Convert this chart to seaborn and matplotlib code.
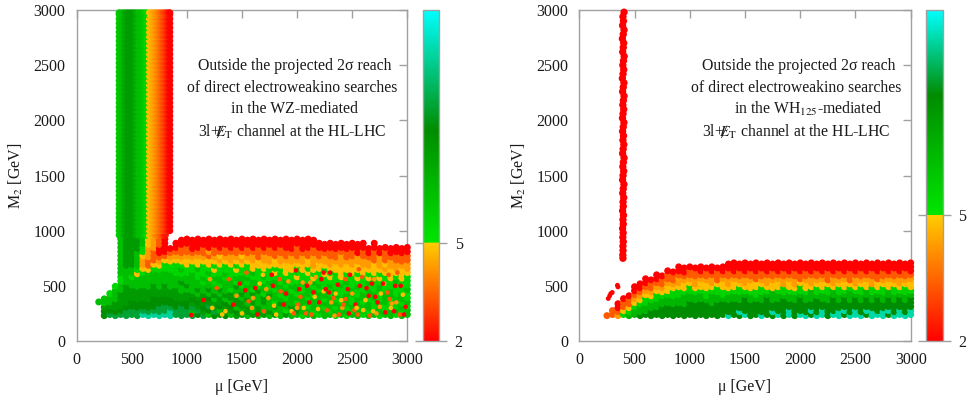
import numpy as np
import pandas as pd
import matplotlib
matplotlib.use("Agg")
import matplotlib.pyplot as plt
from matplotlib.colors import LinearSegmentedColormap, LogNorm
from matplotlib.cm import ScalarMappable
from matplotlib.ticker import NullLocator
import seaborn as sns

# ---------- values ----------
ticks_main = [0, 500, 1000, 1500, 2000, 2500, 3000]
cbar_ticks = [2, 5]
left_cbar_max = 44
right_cbar_max = 22.3
left_lines = ["Outside the projected 2σ reach", "of direct electroweakino searches",
              "in the WZ-mediated", r"3l+$\ \not\!\!\!\!E_{\mathrm{T}}$ channel at the HL-LHC"]
right_lines = ["Outside the projected 2σ reach", "of direct electroweakino searches",
               r"in the WH$_{125}$-mediated", r"3l+$\ \not\!\!\!\!E_{\mathrm{T}}$ channel at the HL-LHC"]

left_grid_m2 = [240, 278, 316, 354, 392, 430, 468, 506, 544, 582, 620, 658, 696, 734, 772, 810, 848, 886, 924]
right_grid_m2 = [240, 276, 312, 348, 384, 420, 456, 492, 528, 564, 600, 636, 672, 708]
grid_mu = [200 + 50 * i for i in range(57)]

left_table = [
 [0,0,0,8],
 [14,14,12,8,8],
 [18,14,12,8,8,6],
 [18,14,12,12,8,8,8,6],
 [18,14,12,12,12,12,8,8,6,6,8,8,8,8,8,8,8,8,8],
 [18,18,14,12,12,12,12,12,8,8,8,8,12,12,12,12,12,12,12],
 [18,18,14,14,12,12,12,8,8,6,8,8,12,12,12,12,12,12,12],
 [18,18,14,14,12,12,12,8,8,8,4.7,6,8,8,8,8,12,12,12],
 [28,18,14,14,12,12,12,8,8,8,6,4.7,4,4,4.7,6,6,8,8],
 [28,18,14,14,12,12,12,8,8,8,8,4.7,3,3,4,4,4,4.7,4.7],
 [28,18,14,14,14,12,12,12,8,8,8,6,4.7,3,3,3,4,4,4],
 [28,18,18,14,14,12,12,8,8,8,8,6,4.7,4,3,2,2,3,3],
 [28,18,18,14,14,12,12,12,8,8,8,6,6,4.7,3,2,2,2,2],
 [28,28,18,14,14,12,12,8,8,8,8,6,6,4.7,4,3,2],
 [18,18,14,14,12,12,12,8,8,8,6,6,6,4.7,4,3,2,2],
 [18,18,18,14,12,12,8,8,12,8,6,8,6,4.7,4,3,3,2,2],
 [18,18,14,14,12,12,8,12,8,8,6,6,4.7,4.7,4,3,3,2,2],
 [18,8,18,12,14,12,8,8,8,8,8,6,6,4.7,4,3,2,2,2],
 [14,18,12,14,12,8,12,8,8,6,6,8,4.7,4.7,4,3,2,2,2],
 [18,12,14,12,12,12,8,8,6,8,6,6,6,4.7,4,3,3,2,2],
 [8,14,18,12,14,8,12,8,8,6,8,6,4.7,4.7,3,4,2,2,2],
 [14,18,12,12,8,12,8,8,6,8,6,4.7,6,4.7,4,3,3,2,2],
 [12,8,14,12,12,8,12,6,8,8,6,6,4.7,4,4.7,3,2,2,2],
 [14,12,12,14,8,12,8,8,8,6,8,6,6,4.7,4,3,3,2,2],
 [8,12,14,8,12,12,6,8,8,6,6,6,4.7,4,4,3,2,2,2],
 [12,14,8,12,12,8,8,12,6,8,6,4.7,6,4.7,4,3,3,2,2],
 [12,8,12,12,8,12,8,6,8,8,6,6,4.7,4,4.7,3,2,2,2],
 [8,12,12,8,12,8,8,8,6,8,6,6,6,4.7,4,3,3,2,2],
 [12,8,8,12,8,12,6,8,8,6,8,4.7,4.7,4,4,3,2,2,2],
 [8,12,12,8,8,8,12,6,8,6,6,6,4.7,4.7,3,3,3,2,2],
 [12,8,8,12,12,6,8,8,6,8,6,4.7,4.7,4,4,3,2,2,2],
 [8,12,8,8,8,12,8,6,8,6,6,6,4.7,4,4,3,3,2,2],
 [12,8,12,6,8,8,6,8,8,6,4.7,6,4.7,4.7,3,3,2,2,2],
 [8,8,8,12,8,6,8,8,6,6,6,6,4.7,4,4,3,3,2,2],
 [12,6,8,8,6,8,8,6,8,6,4.7,4.7,4.7,4,3,3,2,2,2],
 [8,8,12,8,8,8,6,8,6,6,6,4.7,4.7,4,4,3,2,2,2],
 [8,12,8,6,8,6,8,8,6,4.7,6,6,4.7,4,3,3,3,2,2],
 [6,8,8,8,8,8,6,6,8,6,6,4.7,4.7,4,4,3,2,2,2],
 [8,8,6,8,6,8,8,6,6,6,4.7,6,4.7,4.7,3,3,2,2,2],
 [8,6,8,8,8,6,8,6,8,4.7,6,4.7,4,4,4,3,3,2,2],
 [6,8,8,6,8,8,6,8,6,6,6,4.7,4.7,4,3,3,2,2],
 [8,8,6,8,6,8,8,6,6,6,4.7,6,4.7,4,4,3,2,2],
 [8,6,8,8,8,6,6,8,6,4.7,6,4.7,4,4,3,3,2,2],
 [6,8,6,8,6,8,8,6,6,6,6,4.7,4.7,4,3,3,2,2],
 [8,8,8,6,8,6,6,8,6,4.7,4.7,4.7,4,4,4,3,2,2],
 [6,8,6,8,8,8,6,6,8,6,6,4.7,4.7,4,3,3,2,2],
 [8,6,8,6,6,8,8,6,6,6,4.7,4.7,4,4,3,3,2,2],
 [8,8,6,8,8,6,6,8,6,4.7,6,4.7,4.7,4,4,2,2,2],
 [6,8,8,6,8,8,6,6,6,6,4.7,4.7,4,4,3,3,2,2],
 [8,6,8,8,6,6,8,6,8,4.7,6,4.7,4,4,3,2,2],
 [8,8,6,6,8,8,6,6,6,6,4.7,4.7,4.7,3,3,3,2,2],
 [6,8,8,8,6,6,8,8,6,4.7,6,4.7,4,4,4,2,2],
 [8,6,6,8,8,8,6,6,6,6,4.7,4,4.7,3,3,3,2],
 [8,8,8,6,6,8,8,6,6,4.7,4.7,4.7,4,4,3,2,2],
 [6,8,6,8,8,6,6,6,8,6,4.7,4,4,3,3,2,2],
 [8,6,8,6,8,8,6,6,6,4.7,4.7,4.7,4,3,3,2,2],
 [8,8,6,8,6,6,8,6,6,6,4.7,4,4,3,3,2,2],
]

band_mu = [385, 410, 435, 460, 485, 510, 535, 560, 585, 610, 635, 660, 685, 710, 735, 760, 785, 810, 830, 845]
band_sig = [7, 8, 10, 12, 12, 12, 10, 8, 8, 7, 6, 4.7, 4.3, 4, 3.6, 3.2, 2.8, 2.5, 2.2, 2]
band_m2 = [1000, 1040, 1080, 1120, 1160, 1200, 1240, 1280, 1320, 1360, 1400, 1440, 1480, 1520, 1560, 1600, 1640,
           1680, 1720, 1760, 1800, 1840, 1880, 1920, 1960, 2000, 2040, 2080, 2120, 2160, 2200, 2240, 2280, 2320,
           2360, 2400, 2440, 2480, 2520, 2560, 2600, 2640, 2680, 2720, 2760, 2800, 2840, 2880, 2920, 2960, 2975]
neck_mu = [385, 410, 435, 460, 485, 510, 535, 560, 585, 610, 635, 660, 685, 710, 735, 760, 785, 805]
neck_sig = [7, 8, 10, 12, 12, 12, 10, 8, 8, 7, 5.5, 4.7, 4.3, 3.8, 3.4, 3, 2.6, 2.2]
neck_m2 = [960]

speck_mu = [1040, 1150, 1230, 1270, 1320, 1380, 1420, 1450, 1500, 1540, 1590, 1620, 1660, 1700, 1740, 1770, 1810, 1850,
            1880, 1920, 1950, 1990, 2030, 2060, 2090, 2130, 2170, 2200, 2240, 2270, 2300, 2340, 2370, 2400, 2440, 2470,
            2500, 2530, 2560, 2600, 2630, 2660, 2700, 2730, 2760, 2800, 2830, 2860, 2890, 2930, 2960, 2985,
            1210, 1350, 1480, 1560, 1640, 1720, 1790, 1900, 1970, 2050, 2110, 2190, 2260, 2330, 2410, 2480, 2550, 2620,
            2680, 2750, 2820, 2880, 2950, 1600, 1780, 2010, 2220, 2350, 2520, 2710, 2900, 2150, 2440, 2790,
            2020, 2080, 2160, 2240, 2310, 2380, 2460, 2540, 2590, 2650, 2720, 2780, 2850, 2910, 2970, 2120, 2290, 2420,
            2570, 2690, 2840, 2940, 2000, 1840, 1690, 1530]
speck_m2 = [235, 371, 300, 480, 240, 560, 330, 410, 250, 620, 300, 480, 520, 270, 390, 600, 240, 450,
            330, 540, 270, 640, 400, 300, 500, 240, 580, 350, 450, 280, 620, 230, 510, 370, 560, 250, 430, 330, 650,
            280, 480, 230, 560, 350, 430, 260, 600, 340, 500, 240, 420, 310,
            560, 270, 520, 360, 240, 470, 320, 430, 250, 530, 350, 290, 470, 390, 300, 600, 240, 370,
            520, 310, 440, 270, 560, 390, 500, 330, 560, 430, 280, 400, 350, 440, 380, 520,
            470, 250, 400, 620, 350, 240, 470, 300, 580, 410, 250, 520, 300, 620, 240, 530, 440, 330,
            500, 270, 380, 500, 300, 560, 600, 460]
speck_sig = [2, 2, 4.7, 3, 4.7, 3, 2, 4, 4.7, 3, 4, 2, 4.7, 3, 4, 2, 4.7, 3,
             2, 4, 4.7, 2, 3, 4.7, 2, 3, 4, 2, 4.7, 3, 2, 4, 2, 4.7, 3, 2, 4, 2, 3,
             4.7, 2, 3, 4, 2, 4.7, 2, 3, 4, 2, 3, 4.7, 2,
             4, 4.7, 2, 3, 2, 4, 4.7, 2, 3, 4, 2, 4.7, 2, 3, 4, 2, 3, 4.7,
             2, 4, 3, 2, 4.7, 4, 2, 3, 2, 4.7, 3, 2, 4, 2, 3, 4.7,
             2, 3, 4.7, 2, 4, 3, 2, 4.7, 3, 2, 4, 2, 4.7, 3, 2, 4, 2, 3,
             2, 4.7, 3, 2, 4, 3, 4.7, 2]

right_table = [
 [],
 [3],
 [3,3],
 [4,3,2,2],
 [6,4.7,3,3,2],
 [8,6,4.7,3,3,2],
 [8,8,6,4.7,4,3,2,2],
 [12,8,8,6,4.7,4,3,2,2],
 [12,8,8,6,6,4.7,4,3,2,2],
 [12,12,8,8,6,4.7,4,3,3,2],
 [12,12,8,8,6,6,4.7,4,3,2,2],
 [12,12,12,8,8,6,4.7,4,3,3,2],
 [12,12,12,8,8,6,4.7,4.7,4,3,3,2],
 [12,12,12,8,8,6,6,4.7,4,3,3,2],
 [12,12,12,8,8,6,6,4.7,4,4,3,2,2],
 [12,12,12,8,8,8,6,4.7,4.7,4,3,2,2],
 [12,12,12,12,8,8,6,6,4.7,4,3,3,2],
 [12,12,12,12,8,8,6,4.7,4,4,3,3,2],
 [12,12,12,12,8,8,6,4.7,4.7,4,3,2,2],
 [12,12,12,12,8,6,6,4.7,4.7,4,3,3,2],
 [12,12,12,8,8,8,6,4.7,4,4,3,2,2],
 [12,12,12,12,8,8,6,6,4.7,3,3,3,2],
 [12,12,12,12,8,6,6,4.7,4.7,4,3,2,2],
 [18,12,12,12,8,8,6,4.7,4,4,3,3,2,2],
 [12,12,12,12,8,8,6,4.7,4.7,4,3,2,2,2],
 [12,18,12,12,8,8,6,6,4.7,4,3,3,2,2],
 [18,12,12,12,12,8,6,4.7,4,4,3,2,2,2],
 [12,12,12,12,8,8,6,4.7,4.7,4,3,3,2,2],
 [12,12,12,12,8,6,6,4.7,4.7,3,3,2,2,2],
 [18,12,12,12,8,8,6,6,4.7,4,3,3,2,2],
 [12,12,12,12,12,8,6,4.7,4,4,3,2,2,2],
 [12,18,12,12,8,8,8,4.7,4.7,4,3,3,2,2],
 [18,12,12,12,8,8,6,4.7,4.7,4,3,2,2,2],
 [12,12,12,12,12,8,6,6,4,4,3,3,2,2],
 [18,18,12,12,8,8,6,4.7,4.7,4,3,2,2,2],
 [12,12,12,12,8,8,6,4.7,4,4,3,3,2,2],
 [18,12,12,12,12,8,6,6,4.7,3,3,2,2,2],
 [18,12,12,12,8,8,6,4.7,4.7,4,3,3,2,2],
 [12,18,12,12,8,8,8,4.7,4,4,3,2,2,2],
 [18,12,12,12,12,8,6,6,4.7,4,3,3,2,2],
 [18,18,12,12,8,8,6,4.7,4.7,4,3,2,2,2],
 [12,12,12,12,8,8,6,6,4.7,3,3,3,2,2],
 [18,12,12,12,12,8,8,4.7,4,4,3,2,2,2],
 [18,18,12,12,8,8,6,6,4.7,4,3,3,2,2],
 [12,18,12,12,12,8,6,4.7,4.7,4,3,2,2,2],
 [18,12,12,12,8,8,8,6,4.7,3,3,3,2,2],
 [18,18,12,12,12,8,6,4.7,4,4,3,2,2,2],
 [18,12,12,12,8,8,6,6,4.7,4,3,3,2,2],
 [12,18,12,12,12,8,8,4.7,4.7,4,3,2,2,2],
 [18,18,12,12,8,8,6,6,4,4,3,3,2,2],
 [18,12,12,12,12,8,6,4.7,4.7,3,3,2,2,2],
 [18,18,12,12,8,8,6,6,4.7,4,3,3,2,2],
 [12,18,12,12,12,8,8,4.7,4.7,4,3,2,2,2],
 [18,12,12,12,8,8,6,6,4.7,4,3,3,2,2],
 [18,18,12,12,12,8,6,4.7,4,4,3,2,2,2],
 [18,12,12,12,8,8,6,6,4.7,4,3,3,2,2],
 [18,18,12,12,12,8,6,4.7,4.7,4,3,2,2,2],
]

strip_mu = [405, 395, 400, 392, 405, 398, 390, 402, 398, 393, 406, 400, 394, 402, 396, 390, 404, 398, 392, 405, 399,
            394, 402, 396, 391, 404, 398, 392, 400, 395, 403, 397, 392, 405, 399, 394, 402, 396, 392, 404, 398, 393,
            402, 396, 398, 392, 400, 395, 398, 392, 397, 394, 398, 395, 396, 394, 395]
strip_m2 = [2980, 2940, 2900, 2860, 2820, 2780, 2740, 2700, 2660, 2620, 2580, 2540, 2500, 2460, 2420, 2380, 2340, 2300,
            2260, 2220, 2180, 2140, 2100, 2060, 2020, 1980, 1940, 1900, 1860, 1820, 1780, 1740, 1700, 1660, 1620, 1580,
            1540, 1500, 1460, 1420, 1380, 1340, 1300, 1260, 1220, 1180, 1140, 1100, 1060, 1020, 980, 940, 900, 860,
            820, 780, 750]
blob_mu = [262, 275, 285, 298, 350, 345]
blob_m2 = [385, 410, 430, 440, 490, 505]
blob_sig = [2, 2, 2, 2, 2, 2]

# ---------- tables to long form (odd columns sit a little lower) ----------
def long_form(table, rows_m2):
    rows = []
    for i, (mu, col) in enumerate(zip(grid_mu, table)):
        for m2, s in zip(rows_m2, col):
            if s > 0:
                rows.append((mu, m2 - 10 * (i % 2), s))
    return pd.DataFrame(rows, columns=["mu", "m2", "sig"])

left_df = long_form(left_table, left_grid_m2)
band_df = pd.DataFrame([(m, y, s) for y in band_m2 for m, s in zip(band_mu, band_sig)], columns=["mu", "m2", "sig"])
neck_df = pd.DataFrame([(m, y, s) for y in neck_m2 for m, s in zip(neck_mu, neck_sig)], columns=["mu", "m2", "sig"])
speck_df = pd.DataFrame({"mu": speck_mu, "m2": speck_m2, "sig": speck_sig})
right_df = long_form(right_table, right_grid_m2)
strip_df = pd.DataFrame({"mu": strip_mu, "m2": strip_m2, "sig": [2] * len(strip_mu)})
blob_df = pd.DataFrame({"mu": blob_mu, "m2": blob_m2, "sig": blob_sig})

# ---------- style ----------
W, H = 973, 400
sns.set_theme(style="white")
plt.rcParams["font.family"] = ["Liberation Serif", "DejaVu Serif"]
plt.rcParams["mathtext.fontset"] = "stix"
GRAY = "#a0a0a0"
TXT = "#1a1a1a"

def make_cmap(f5, fdark):
    return LinearSegmentedColormap.from_list("sig", [
        (0, "#ff0000"), (f5 - 0.0005, "#ffcc00"), (f5 + 0.0005, "#00e600"),
        (fdark, "#008c00"), (1, "#00ffff")], N=1024)

def axes_px(x0, x1, y0, y1):
    return fig.add_axes([x0 / W, 1 - y1 / H, (x1 - x0) / W, (y1 - y0) / H])

fig = plt.figure(figsize=(W / 100, H / 100), dpi=100)

def panel(box, cbox, vmax, f5, fdark, frames, sizes, lines, text_xy, ylab_x):
    ax = axes_px(*box)
    norm = LogNorm(2, vmax)
    cmap = make_cmap(f5, fdark)
    for df, s in zip(frames, sizes):
        sns.scatterplot(data=df, x="mu", y="m2", hue="sig", hue_norm=norm, palette=cmap,
                        s=s, linewidth=0, legend=False, ax=ax, clip_on=False, zorder=3)
    ax.set_xlim(0, 3000)
    ax.set_ylim(0, 3000)
    ax.set_xticks(ticks_main)
    ax.set_yticks(ticks_main)
    ax.tick_params(direction="in", length=6, width=1, color=GRAY, top=True, right=True,
                   labelsize=11.5, labelcolor=TXT, pad=8)
    for sp in ax.spines.values():
        sp.set_color(GRAY)
        sp.set_linewidth(1)
        sp.set_visible(True)
    ax.set_xlabel("μ [GeV]", fontsize=11.5, color=TXT)
    ax.set_ylabel(r"M$_2$ [GeV]", fontsize=11.5, color=TXT)
    ax.xaxis.set_label_coords(0.5, -0.115)
    ax.yaxis.set_label_coords(ylab_x, 0.5)
    for line, (tx, ty) in zip(lines, text_xy):
        fig.text(tx / W, 1 - ty / H, line, ha="center", va="center", fontsize=11.3, color=TXT)
    cax = axes_px(*cbox)
    cb = fig.colorbar(ScalarMappable(norm=norm, cmap=cmap), cax=cax)
    cb.set_ticks(cbar_ticks)
    cb.set_ticklabels([str(t) for t in cbar_ticks])
    cax.yaxis.set_minor_locator(NullLocator())
    cax.tick_params(axis="y", which="major", direction="out", length=6, width=1, color=GRAY,
                    left=True, right=True, labelsize=11.5, labelcolor=TXT, pad=5)
    cb.outline.set_edgecolor(GRAY)
    cb.outline.set_linewidth(1)

panel((76.7, 407.3, 10, 341), (422.7, 439.3, 10, 341), left_cbar_max, 0.297, 0.637,
      [left_df, neck_df, band_df, speck_df], [25, 25, 25, 11], left_lines,
      [(295, 66), (292, 88), (294.5, 109), (292.5, 132)], -0.155)
panel((579.3, 910.7, 10, 341), (926, 942.7, 10, 341), right_cbar_max, 0.38, 0.743,
      [right_df, strip_df, blob_df], [25, 28, 12], right_lines,
      [(799, 66), (796, 88), (808, 109), (796, 132)], -0.155)

fig.savefig("out.png", dpi=100)
